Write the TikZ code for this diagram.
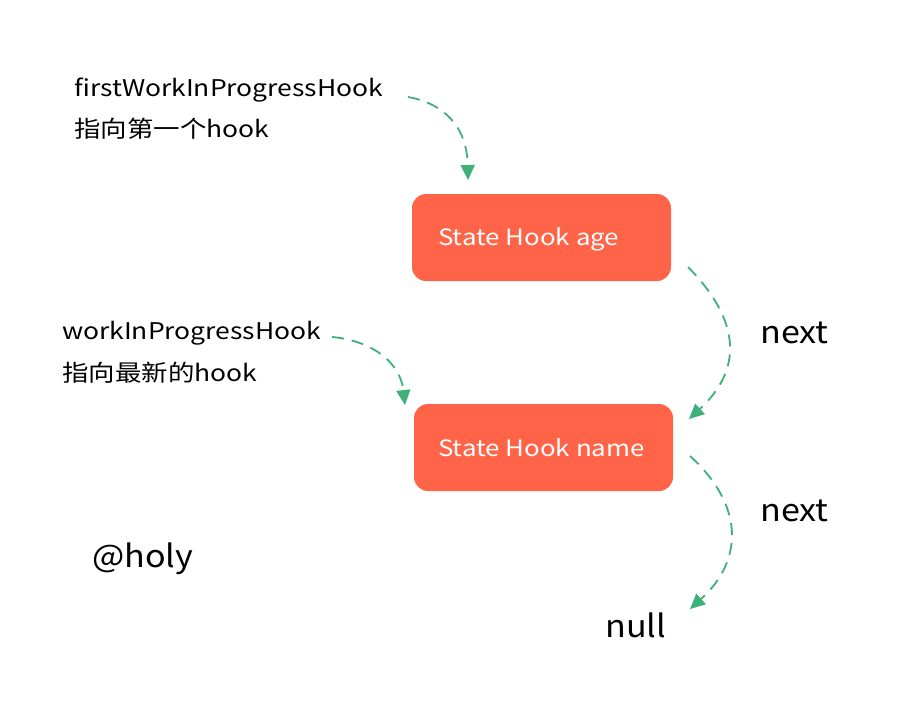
\documentclass[tikz,border=0pt]{standalone}
\usepackage{fontspec}
\setmainfont{Noto Sans CJK SC}
\newfontfamily\handfont[FakeStretch=1.15]{Noto Sans CJK SC}
\newfontfamily\bigfont[FakeStretch=1.1]{Noto Sans CJK SC}
\usetikzlibrary{arrows.meta}
\definecolor{hookred}{RGB}{255,100,73}
\definecolor{linkgreen}{RGB}{62,176,122}
\tikzset{
  hookbox/.style={fill=hookred, rounded corners=14pt, minimum width=259pt, minimum height=87pt, inner sep=0pt},
  hooklabel/.style={text=white, font=\handfont\fontsize{22.5}{27}\selectfont, anchor=base west, inner sep=0pt},
  note/.style={font=\handfont\fontsize{23}{28}\selectfont, anchor=base west, inner sep=0pt, align=left},
  bigword/.style={font=\bigfont\fontsize{31}{36}\selectfont, anchor=base west, inner sep=0pt},
  link/.style={draw=linkgreen, line width=1.8pt, dash pattern=on 12pt off 8pt,
    -{Triangle[length=15pt,width=14pt,fill=linkgreen]}}
}
\begin{document}
\begin{tikzpicture}[x=1pt,y=-1pt]
\useasboundingbox (0,0) rectangle (920,724);
\node[hookbox] (age) at (541.5,237.5) {};
\node[hookbox] (name) at (543.5,447.5) {};
\node[hooklabel] (agetxt) at (438,245) {State Hook age};
\node[hooklabel] (nametxt) at (438,456) {State Hook name};

\node[note] (first) at (74,96) {firstWorkInProgressHook};
\node[note] (firstcn) at (74,137) {指向第一个hook};
\node[note] (wip) at (62,339) {workInProgressHook};
\node[note] (wipcn) at (62,381) {指向最新的hook};

\node[bigword] (next1) at (760,343) {next};
\node[bigword] (next2) at (760,521) {next};
\node[bigword] (null) at (605,637) {null};
\node[bigword] (holy) at (92,567) {@holy};

\coordinate (s1) at (408,97);
\coordinate (e1) at (468,180);
\coordinate (s2) at (332,337);
\coordinate (e2) at (405,405);
\coordinate (s3) at (688,267);
\coordinate (e3) at (689,419);
\coordinate (s4) at (690,456);
\coordinate (e4) at (690,609);

\draw[link] (s1) .. controls (442,103) and (467,125) .. (e1);
\draw[link] (s2) .. controls (368,340) and (400,360) .. (e2);
\draw[link] (s3) .. controls (742,322) and (742,370) .. (e3);
\draw[link] (s4) .. controls (744,505) and (744,560) .. (e4);
\end{tikzpicture}
\end{document}
